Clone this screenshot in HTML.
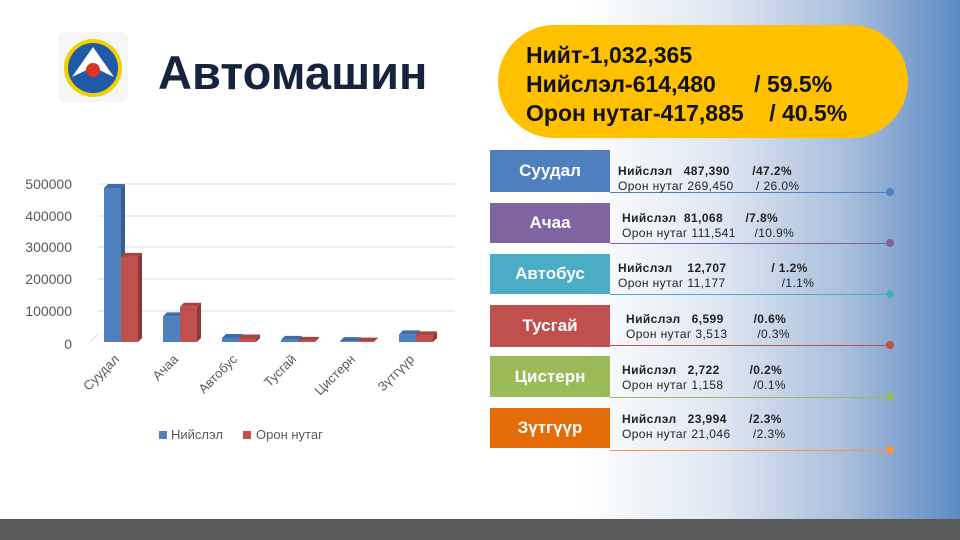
<!DOCTYPE html><html><head><meta charset="utf-8"><style>
body{margin:0}
#s{position:relative;width:960px;height:540px;overflow:hidden;font-family:"Liberation Sans",sans-serif;background:linear-gradient(90deg,#fff 0%,#fff 60%,#dfe7f2 75%,#a9bfdc 88%,#5d8ac4 100%)}
.a{position:absolute}
.box{position:absolute;left:490px;width:120px;color:#fff;font-weight:bold;font-size:17px;display:flex;align-items:center;justify-content:center}
.t{position:absolute;font-size:12px;color:#222;line-height:15px;white-space:pre;letter-spacing:0.4px}
.ln{position:absolute;left:610px;width:280px;height:1px}
.dot{position:absolute;left:886px;width:8px;height:8px;border-radius:50%}
</style></head><body><div id="s">
<div class="a" style="left:0;top:519px;width:960px;height:21px;background:#595959"></div>
<svg class="a" style="left:58px;top:32px" width="70" height="70"><rect x="0" y="0" width="70" height="70" rx="6" fill="#f6f6f6"/><circle cx="35" cy="36" r="29" fill="#f2d000"/><circle cx="35" cy="36" r="25" fill="#1e5aa8"/><path d="M14 45 L35 15 L56 45 L35 35Z" fill="#fff"/><circle cx="35" cy="38" r="7" fill="#d32"/></svg>
<div class="a" style="left:158px;top:45px;font-size:47px;font-weight:bold;color:#17233d">Автомашин</div>
<div class="a" style="left:498px;top:25px;width:410px;height:113px;border-radius:57px;background:#ffc000"></div>
<div class="a" style="left:526px;top:41px;font-size:23px;font-weight:bold;color:#111;line-height:29px;white-space:pre">Нийт-1,032,365
Нийслэл-614,480      / 59.5%
Орон нутаг-417,885    / 40.5%</div>
<svg class="a" style="left:0;top:150px" width="480" height="300" font-family="Liberation Sans" font-size="14" fill="#595959">
<g stroke="#d9d9d9"><line x1="98" y1="34" x2="455" y2="34"/><line x1="98" y1="66" x2="455" y2="66"/><line x1="98" y1="97" x2="455" y2="97"/><line x1="98" y1="129" x2="455" y2="129"/><line x1="98" y1="161" x2="455" y2="161"/><line x1="90" y1="192" x2="98" y2="184"/></g>
<g text-anchor="end"><text x="72" y="39">500000</text><text x="72" y="71">400000</text><text x="72" y="102">300000</text><text x="72" y="134">200000</text><text x="72" y="166">100000</text><text x="72" y="199">0</text></g>
<g id="b"></g>
<g font-size="13" text-anchor="end">
<text transform="translate(120,210) rotate(-45)">Суудал</text>
<text transform="translate(179,210) rotate(-45)">Ачаа</text>
<text transform="translate(238,210) rotate(-45)">Автобус</text>
<text transform="translate(297,210) rotate(-45)">Тусгай</text>
<text transform="translate(356,210) rotate(-45)">Цистерн</text>
<text transform="translate(415,210) rotate(-45)">Зүтгүүр</text></g>
<rect x="159" y="281" width="8" height="8" fill="#4f81bd"/><text x="171" y="289" font-size="13">Нийслэл</text>
<rect x="243" y="281" width="8" height="8" fill="#c0504d"/><text x="256" y="289" font-size="13">Орон нутаг</text>
</svg>
<script>
var d=[[487390,269450],[81068,111541],[12707,11177],[6599,3513],[2722,1158],[23994,21046]],s='';
d.forEach(function(v,i){var x=104+i*59;[0,1].forEach(function(j){var h=v[j]*158/500000,bx=x+j*17,y=192-h,c=j?['#c0504d','#8c3836','#a84440']:['#4f81bd','#375d8e','#3f6da5'];
s+='<polygon points="'+(bx+17)+','+y+' '+(bx+21)+','+(y-4)+' '+(bx+21)+','+(188)+' '+(bx+17)+',192" fill="'+c[1]+'"/>';
s+='<polygon points="'+bx+','+y+' '+(bx+4)+','+(y-4)+' '+(bx+21)+','+(y-4)+' '+(bx+17)+','+y+'" fill="'+c[2]+'"/>';
s+='<rect x="'+bx+'" y="'+y+'" width="17" height="'+h+'" fill="'+c[0]+'"/>';});});
document.getElementById('b').innerHTML=s;
</script>
<div class="box" style="top:150px;height:42px;background:#4f7fbf">Суудал</div>
<div class="box" style="top:203px;height:40px;background:#8064a2">Ачаа</div>
<div class="box" style="top:254px;height:40px;background:#4bacc6">Автобус</div>
<div class="box" style="top:305px;height:42px;background:#c0504d">Тусгай</div>
<div class="box" style="top:356px;height:41px;background:#9bbb59">Цистерн</div>
<div class="box" style="top:408px;height:40px;background:#e36c09">Зүтгүүр</div>
<div class="ln" style="top:192px;background:#4f7fbf"></div><div class="dot" style="top:188px;background:#4f7fbf"></div>
<div class="ln" style="top:243px;background:#8064a2"></div><div class="dot" style="top:239px;background:#8064a2"></div>
<div class="ln" style="top:294px;background:#4bacc6"></div><div class="dot" style="top:290px;background:#4bacc6"></div>
<div class="ln" style="top:345px;background:#c0504d"></div><div class="dot" style="top:341px;background:#c0504d"></div>
<div class="ln" style="top:397px;background:#9bbb59"></div><div class="dot" style="top:393px;background:#9bbb59"></div>
<div class="ln" style="top:450px;background:#f79646"></div><div class="dot" style="top:446px;background:#f79646"></div>
<div class="t" style="left:618px;top:164px"><b>Нийслэл   487,390      /47.2%</b>
Орон нутаг 269,450      / 26.0%</div>
<div class="t" style="left:622px;top:211px"><b>Нийслэл  81,068      /7.8%</b>
Орон нутаг 111,541     /10.9%</div>
<div class="t" style="left:618px;top:261px"><b>Нийслэл    12,707            / 1.2%</b>
Орон нутаг 11,177               /1.1%</div>
<div class="t" style="left:626px;top:312px"><b>Нийслэл   6,599        /0.6%</b>
Орон нутаг 3,513        /0.3%</div>
<div class="t" style="left:622px;top:363px"><b>Нийслэл   2,722        /0.2%</b>
Орон нутаг 1,158        /0.1%</div>
<div class="t" style="left:622px;top:412px"><b>Нийслэл   23,994      /2.3%</b>
Орон нутаг 21,046      /2.3%</div>
</div></body></html>
